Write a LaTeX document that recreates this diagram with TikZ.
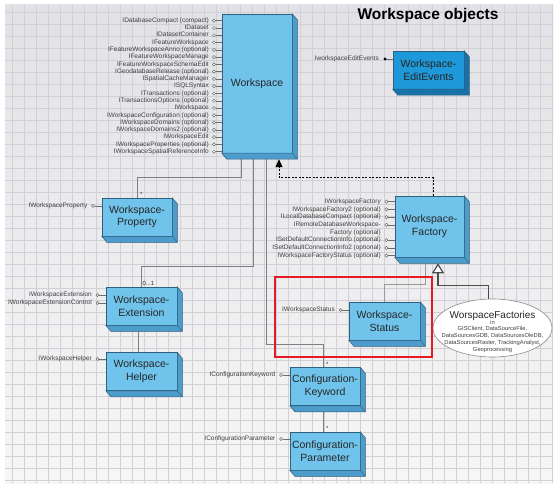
\documentclass[tikz,border=0pt]{standalone}
\usepackage{fontspec}
\setmainfont{Liberation Sans}
\usetikzlibrary{calc}
\usetikzlibrary{positioning}
\usetikzlibrary{arrows.meta}
\usetikzlibrary{shapes.geometric}

\definecolor{paper}{RGB}{226,226,230}
\definecolor{paperlow}{RGB}{246,246,246}
\definecolor{gridcol}{RGB}{208,208,214}
\definecolor{boxfront}{RGB}{112,196,236}
\definecolor{boxside}{RGB}{76,156,204}
\definecolor{boxedge}{RGB}{48,96,124}
\definecolor{evfront}{RGB}{30,152,216}
\definecolor{evside}{RGB}{22,114,170}
\definecolor{linkgray}{RGB}{128,128,128}
\definecolor{ifacetext}{RGB}{64,64,64}
\definecolor{markred}{RGB}{228,26,36}

\begin{document}
\begin{tikzpicture}[x=1pt,y=-1pt,
  objbox/.style={draw=boxedge,fill=boxfront,line width=0.5pt,minimum width=70,minimum height=38,inner sep=0pt,align=center,text=black!85,font=\fontsize{10.5}{12.5}\selectfont},
  iface/.style={anchor=east,inner sep=0pt,text=ifacetext,text height=4.6pt,text depth=1.2pt,font=\fontsize{6.5}{7}\selectfont},
  lolli/.style={draw=linkgray!85!black,line width=0.5pt},
  assoc/.style={draw=linkgray,line width=1pt},
  mult/.style={anchor=south west,inner sep=0.5pt,xshift=2pt,font=\fontsize{6}{7}\selectfont,text=black!80},
  realizeline/.style={draw=black,line width=0.9pt,dash pattern=on 2pt off 1.5pt,-{Triangle[length=8pt,width=7pt]}},
  inheritline/.style={draw=black!70,line width=1.2pt,-{Triangle[length=10pt,width=12pt,fill=white]}}
]
\fill[white] (0,0) rectangle (558,487);
\shade[top color=paper,bottom color=paperlow] (5,5) rectangle (553,483);
\draw[gridcol,line width=0.4pt,step=12pt] (5,5) grid (553,483);

\node[font=\bfseries\fontsize{15.5}{18}\selectfont,anchor=base] (title) at (428,19.5) {Workspace objects};

\node[objbox,minimum height=139] (ws) at (257,83.5) {Workspace};
\node[objbox,fill=evfront,minimum width=71] (edit) at (428.5,70) {Workspace-\\EditEvents};
\node[objbox] (prop) at (137,217) {Workspace-\\Property};
\node[objbox,minimum width=71] (ext) at (141.5,306) {Workspace-\\Extension};
\node[objbox,minimum width=71] (helper) at (141.5,371.5) {Workspace-\\Helper};
\node[objbox,minimum width=69,minimum height=61] (factory) at (429.5,226.5) {Workspace-\\Factory};
\node[objbox,minimum width=71] (status) at (384.5,321) {Workspace-\\Status};
\node[objbox] (keyword) at (325,386.5) {Configuration-\\Keyword};
\node[objbox] (param) at (325,451) {Configuration-\\Parameter};
\node[ellipse,draw=black!45,fill=white,line width=0.6pt,minimum width=119,minimum height=58,inner sep=0pt] (facs) at (492.5,328) {};
\node[align=center,inner sep=0pt,font=\fontsize{5.8}{6.7}\selectfont,text=black!75] (facsname) at ([yshift=-3.8pt]facs.center) {{\fontsize{10}{12}\selectfont\color{black!85}WorspaceFactories}\\[-1pt] in\\ GISClient, DataSourceFile,\\ DataSourcesGDB, DataSourcesOleDB,\\ DataSourcesRaster, TrackingAnalyst,\\ Geoprocessing};

\foreach \t [count=\i] in {IDatabaseCompact (compact), IDataset, IDatasetContainer, IFeatureWorkspace, IFeatureWorkspaceAnno (optional), IFeatureWorkspaceManage, IFeatureWorkspaceSchemaEdit, IGeodatabaseRelease (optional), ISpatialCacheManager, ISQLSyntax, ITransactions (optional), ITransactionsOptions (optional), IWorkspace, IWorkspaceConfiguration (optional), IWorkspaceDomains (optional), IWorkspaceDomains2 (optional), IWorkspaceEdit, IWorkspaceProperties (optional), IWorkspaceSpatialReferenceInfo}{
  \node[iface] (wsi\i) at (209,{13.4+7.28*\i}) {\t};
  \draw[lolli] ([xshift=6.6pt]wsi\i.east) -- (wsi\i.east -| ws.west);
  \draw[lolli,fill=white] ([xshift=5pt]wsi\i.east) circle[radius=1.6pt];
}
\foreach \t [count=\i] in {IWorkspaceFactory, IWorkspaceFactory2 (optional), ILocalDatabaseCompact (optional), IRemoteDatabaseWorkspace-, Factory (optional), ISetDefaultConnectionInfo (optional), ISetDefaultConnectionInfo2 (optional), IWorkspaceFactoryStatus (optional)}{
  \node[iface] (fi\i) at (381,{194+7.7*\i}) {\t};
  \ifnum\i=5\relax\else
    \draw[lolli] ([xshift=7.1pt]fi\i.east) -- (fi\i.east -| factory.west);
    \draw[lolli,fill=white] ([xshift=5.5pt]fi\i.east) circle[radius=1.6pt];
  \fi
}
\foreach \n/\b/\x/\y/\t in {pi1/prop/87.5/206/IWorkspaceProperty, xi1/ext/92/295/IWorkspaceExtension, xi2/ext/92/303/IWorkspaceExtensionControl, hi1/helper/92/359/IWorkspaceHelper, si1/status/335/310/IWorkspaceStatus, ki1/keyword/275.5/375/IConfigurationKeyword, ci1/param/275.5/439/IConfigurationParameter}{
  \node[iface] (\n) at (\x,\y) {\t};
  \draw[lolli] ([xshift=7.1pt]\n.east) -- (\n.east -| \b.west);
  \draw[lolli,fill=white] ([xshift=5.5pt]\n.east) circle[radius=1.6pt];
}
\node[iface] (ei1) at (379,59) {IworkspaceEditEvents};
\draw[lolli] (ei1.east) ++(6,0) -- (ei1.east -| edit.west);
\fill[black] ([xshift=6pt]ei1.east) circle[radius=1.7pt];

\draw[assoc] (prop.north) node[mult] {*} -- ++(0,-20) -| ($(ws.south)+(-16,6)$);
\draw[assoc] (ext.north) node[mult,xshift=-2pt] {0...1} -- ++(0,-20) -| ($(ws.south)+(-4,6)$);
\draw[assoc] ([xshift=-3pt]helper.north) -- ([xshift=-3pt]ext.south);
\draw[assoc] ([xshift=-2pt]keyword.north) node[mult] {*} -- ++(0,-23) -| ($(ws.south)+(9,6)$);
\draw[assoc] ([xshift=-2pt]param.north) node[mult] {*} -- ([xshift=-2pt]keyword.south);
\draw[assoc,draw=linkgray!80] (status.north) -- ++(0,-17) -| ($(factory.south)+(-4.5,6)$);
\draw[realizeline] ($(factory.north)+(3.5,0)$) -- ++(0,-18) -| ($(ws.south)+(22,6)$);
\draw[inheritline] ([xshift=-4pt]facs.north) -- ++(0,-13) -| ($(factory.south)+(8.5,6)$);

\foreach \n/\c in {ws/boxside,edit/evside,prop/boxside,ext/boxside,helper/boxside,factory/boxside,status/boxside,keyword/boxside,param/boxside}{
  \filldraw[fill=\c,draw=boxedge,line width=0.5pt] (\n.north east) -- ++(5,6) -- ($(\n.south east)+(5,6)$) -- ($(\n.south west)+(5,6)$) -- (\n.south west) -- (\n.south east) -- cycle;
  \draw[boxedge,line width=0.5pt] (\n.south east) -- ++(5,6);
}

\draw[markred,line width=2.6pt] (275,277) rectangle (432,357);
\end{tikzpicture}
\end{document}
